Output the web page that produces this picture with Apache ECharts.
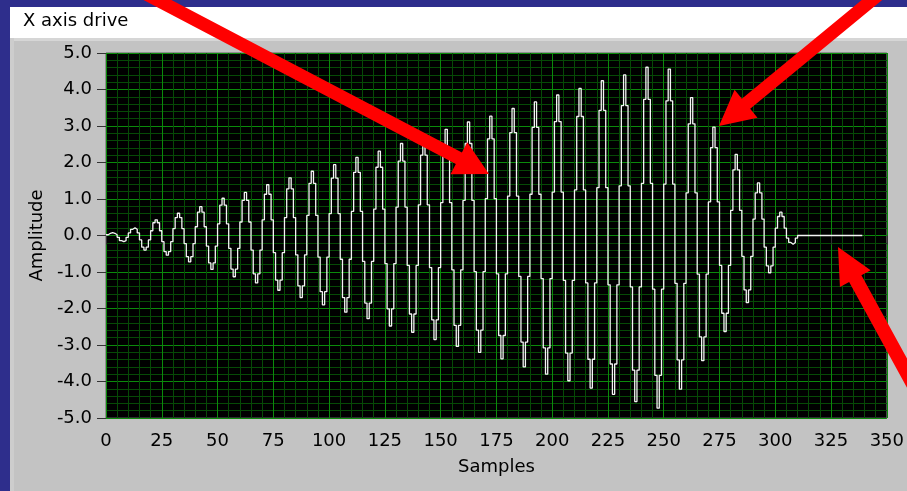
<!DOCTYPE html>
<html>
<head>
<meta charset="utf-8">
<script src="https://cdn.jsdelivr.net/npm/echarts@6/dist/echarts.min.js"></script>
<style>
  html, body { margin: 0; padding: 0; background: #2e2e8c; }
  #chart { width: 907px; height: 491px; }
</style>
</head>
<body>
<div id="chart"></div>
<script>
// sample values, one row = one 10-sample cycle
var amplitude = [
  0.02, 0.06, 0.08, 0.06, 0.02, -0.05, -0.14, -0.17, -0.14, -0.05,
  0.07, 0.17, 0.21, 0.17, 0.07, -0.12, -0.32, -0.40, -0.32, -0.12,
  0.13, 0.35, 0.43, 0.35, 0.13, -0.17, -0.44, -0.54, -0.44, -0.17,
  0.19, 0.49, 0.61, 0.49, 0.19, -0.22, -0.58, -0.72, -0.58, -0.22,
  0.24, 0.64, 0.79, 0.64, 0.24, -0.29, -0.75, -0.93, -0.75, -0.29,
  0.32, 0.83, 1.02, 0.83, 0.32, -0.35, -0.92, -1.13, -0.92, -0.35,
  0.37, 0.96, 1.18, 0.96, 0.37, -0.40, -1.05, -1.30, -1.05, -0.40,
  0.43, 1.13, 1.39, 1.13, 0.43, -0.47, -1.22, -1.50, -1.22, -0.47,
  0.49, 1.28, 1.58, 1.28, 0.49, -0.53, -1.38, -1.70, -1.38, -0.53,
  0.55, 1.43, 1.76, 1.43, 0.55, -0.59, -1.54, -1.90, -1.54, -0.59,
  0.60, 1.57, 1.94, 1.57, 0.60, -0.65, -1.70, -2.10, -1.70, -0.65,
  0.66, 1.73, 2.14, 1.73, 0.66, -0.71, -1.85, -2.28, -1.85, -0.71,
  0.72, 1.87, 2.31, 1.87, 0.72, -0.77, -2.01, -2.48, -2.01, -0.77,
  0.78, 2.04, 2.52, 2.04, 0.78, -0.82, -2.15, -2.65, -2.15, -0.82,
  0.84, 2.20, 2.71, 2.20, 0.84, -0.88, -2.31, -2.85, -2.31, -0.88,
  0.90, 2.36, 2.91, 2.36, 0.90, -0.94, -2.46, -3.04, -2.46, -0.94,
  0.96, 2.52, 3.11, 2.52, 0.96, -0.99, -2.59, -3.20, -2.59, -0.99,
  1.01, 2.65, 3.27, 2.65, 1.01, -1.05, -2.74, -3.38, -2.74, -1.05,
  1.08, 2.82, 3.48, 2.82, 1.08, -1.12, -2.92, -3.60, -2.92, -1.12,
  1.13, 2.96, 3.66, 2.96, 1.13, -1.18, -3.08, -3.80, -3.08, -1.18,
  1.19, 3.12, 3.85, 3.12, 1.19, -1.23, -3.22, -3.98, -3.22, -1.23,
  1.25, 3.26, 4.03, 3.26, 1.25, -1.30, -3.39, -4.18, -3.39, -1.30,
  1.31, 3.43, 4.24, 3.43, 1.31, -1.35, -3.52, -4.35, -3.52, -1.35,
  1.36, 3.56, 4.40, 3.56, 1.36, -1.41, -3.69, -4.55, -3.69, -1.41,
  1.43, 3.73, 4.61, 3.73, 1.43, -1.47, -3.83, -4.73, -3.83, -1.47,
  1.41, 3.69, 4.56, 3.69, 1.41, -1.31, -3.41, -4.21, -3.41, -1.31,
  1.17, 3.06, 3.78, 3.06, 1.17, -1.06, -2.78, -3.43, -2.78, -1.06,
  0.92, 2.41, 2.97, 2.41, 0.92, -0.82, -2.13, -2.63, -2.13, -0.82,
  0.69, 1.80, 2.22, 1.80, 0.69, -0.57, -1.49, -1.84, -1.49, -0.57,
  0.45, 1.17, 1.44, 1.17, 0.45, -0.32, -0.83, -1.02, -0.83, -0.32,
  0.20, 0.52, 0.64, 0.52, 0.20, -0.07, -0.19, -0.24, -0.19, -0.07,
  0, 0, 0, 0, 0, 0, 0, 0, 0, 0,
  0, 0, 0, 0, 0, 0, 0, 0, 0, 0,
  0, 0, 0, 0, 0, 0, 0, 0, 0, 0
];
var samples = amplitude.map(function (v, i) { return [i, v]; });

var xRange = [0, 350];
var yRange = [-5, 5];

// red call-out arrows: tip, unit vector back toward the tail
function arrowShape(tip, dir, headLen, headHalf, shaftHalf) {
  var px = -dir[1], py = dir[0];
  var bx = tip[0] + dir[0] * headLen, by = tip[1] + dir[1] * headLen;
  var tx = tip[0] + dir[0] * 600, ty = tip[1] + dir[1] * 600;
  return [
    [tip[0], tip[1]],
    [bx + px * headHalf, by + py * headHalf],
    [bx + px * shaftHalf, by + py * shaftHalf],
    [tx + px * shaftHalf, ty + py * shaftHalf],
    [tx - px * shaftHalf, ty - py * shaftHalf],
    [bx - px * shaftHalf, by - py * shaftHalf],
    [bx - px * headHalf, by - py * headHalf]
  ];
}
function arrow(tip, dir, headLen, headHalf, shaftHalf) {
  return {
    type: 'polygon', z: 100, silent: true,
    shape: { points: arrowShape(tip, dir, headLen, headHalf, shaftHalf) },
    style: { fill: '#ff0000' }
  };
}

var font = 'DejaVu Sans';
var ink = '#000000';
var chart = echarts.init(document.getElementById('chart'), null, { renderer: 'canvas' });
var option = {
  animation: false,
  backgroundColor: 'transparent',
  textStyle: { fontFamily: font, color: ink },
  graphic: [
    { type: 'rect', z: -10, shape: { x: 10, y: 7, width: 897, height: 31 }, style: { fill: '#ffffff' } },
    { type: 'rect', z: -10, shape: { x: 10, y: 38, width: 897, height: 453 }, style: { fill: '#c3c3c3' } },
    { type: 'rect', z: -9, shape: { x: 10, y: 38, width: 897, height: 3 }, style: { fill: '#d6d6d6' } },
    { type: 'rect', z: -9, shape: { x: 10, y: 38, width: 4, height: 453 }, style: { fill: '#cdcdcd' } },
    { type: 'text', z: 10, style: { x: 23, y: 12, text: 'X axis drive', font: '18px "DejaVu Sans"', fill: '#000000' } },
    arrow([489, 174], [-0.886, -0.465], 34, 18, 6.5),
    arrow([719, 126], [0.772, -0.636], 35, 18, 6.5),
    arrow([838, 247], [0.48, 0.877], 36, 17.5, 7)
  ],
  grid: {
    left: 106, right: 20, top: 53, bottom: 73,
    show: true, backgroundColor: '#000000', borderColor: '#5a5a5a', borderWidth: 1
  },
  xAxis: {
    type: 'value', min: xRange[0], max: xRange[1], interval: 25,
    name: 'Samples', nameLocation: 'middle', nameGap: 40,
    nameTextStyle: { color: ink, fontSize: 18, fontFamily: font },
    axisLine: { show: false },
    axisTick: { show: true, length: 9, lineStyle: { color: '#333333', width: 1 } },
    axisLabel: { color: ink, fontSize: 18, fontFamily: font, margin: 14 },
    splitLine: { show: true, lineStyle: { color: '#0b8a0b', width: 1 } },
    minorTick: { show: false, splitNumber: 5 },
    minorSplitLine: { show: true, lineStyle: { color: '#064a06', width: 1 } }
  },
  yAxis: {
    type: 'value', min: yRange[0], max: yRange[1], interval: 1,
    name: 'Amplitude', nameLocation: 'middle', nameGap: 58, nameRotate: 90,
    nameTextStyle: { color: ink, fontSize: 18, fontFamily: font },
    axisLine: { show: false },
    axisTick: { show: true, length: 9, lineStyle: { color: '#333333', width: 1 } },
    axisLabel: {
      color: ink, fontSize: 18, fontFamily: font, margin: 14,
      formatter: function (v) { return v.toFixed(1); }
    },
    splitLine: { show: true, lineStyle: { color: '#0b8a0b', width: 1 } },
    minorTick: { show: false, splitNumber: 5 },
    minorSplitLine: { show: true, lineStyle: { color: '#064a06', width: 1 } }
  },
  series: [
    {
      type: 'line',
      data: samples,
      step: 'end',
      symbol: 'none',
      lineStyle: { color: '#f4f4f4', width: 1.3 },
      z: 5
    }
  ]
};
chart.setOption(option);
</script>
</body>
</html>
